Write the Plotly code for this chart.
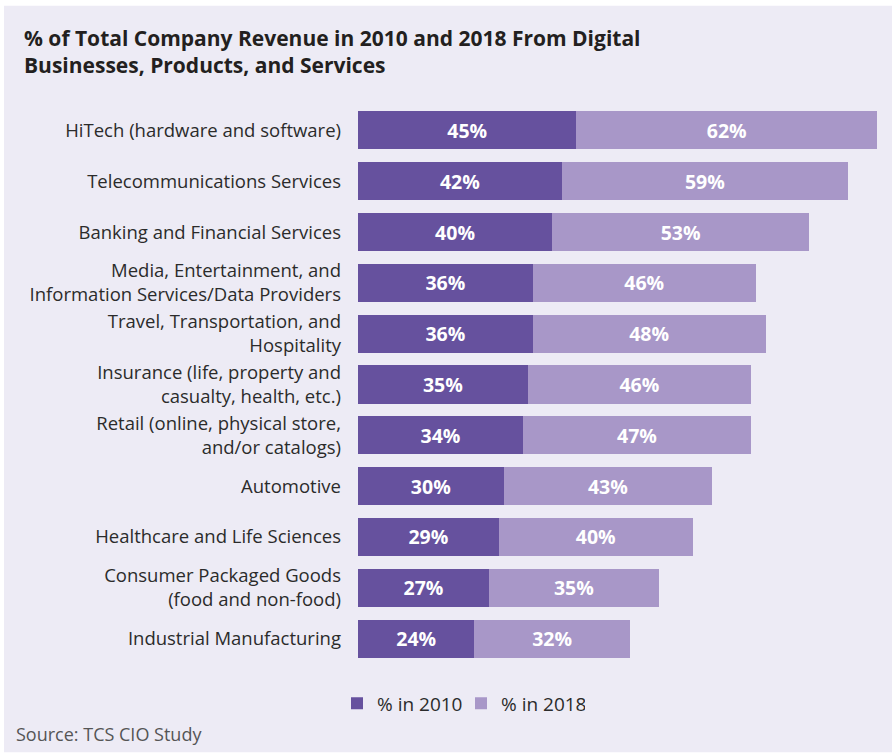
import plotly.graph_objects as go

# Industries, top to bottom
categories = [
    "HiTech (hardware and software)",
    "Telecommunications Services",
    "Banking and Financial Services",
    "Media, Entertainment, and<br>Information Services/Data Providers",
    "Travel, Transportation, and<br>Hospitality",
    "Insurance (life, property and<br>casualty, health, etc.)",
    "Retail (online, physical store,<br>and/or catalogs)",
    "Automotive",
    "Healthcare and Life Sciences",
    "Consumer Packaged Goods<br>(food and non-food)",
    "Industrial Manufacturing",
]
share_2010 = [45, 42, 40, 36, 36, 35, 34, 30, 29, 27, 24]
share_2018 = [62, 59, 53, 46, 48, 46, 47, 43, 40, 35, 32]

DARK = "#66519E"
LIGHT = "#A897C8"
PANEL = "#EDEBF5"
FONT = "Open Sans"

W, H = 893, 753
ML, MR, MT, MB = 358, 11, 104.5, 88.5
PW, PH = W - ML - MR, H - MT - MB


def px_x(p):
    return (p - ML) / PW


def px_y(p):
    return (H - MB - p) / PH


fig = go.Figure()
for name, vals, col in [("% in 2010", share_2010, DARK), ("% in 2018", share_2018, LIGHT)]:
    fig.add_trace(go.Bar(
        y=categories, x=vals, orientation="h", name=name,
        marker=dict(color=col, line=dict(width=0)),
        text=[f"{v}%" for v in vals], texttemplate="%{text}",
        textposition="inside", insidetextanchor="middle",
        textfont=dict(family=FONT, size=19.5, color="white", weight="bold"),
        hoverinfo="skip",
    ))

fig.update_layout(
    width=W, height=H,
    margin=dict(l=ML, r=MR, t=MT, b=MB),
    barmode="stack", bargap=0.25,
    paper_bgcolor="white", plot_bgcolor="rgba(0,0,0,0)",
    font=dict(family=FONT, color="#2b2b2b"),
    uniformtext=dict(minsize=19, mode="show"),
    title=dict(
        text="% of Total Company Revenue in 2010 and 2018 From Digital<br>Businesses, Products, and Services",
        font=dict(family=FONT, size=21, color="#231f20", weight="bold"),
        x=24 / W, xanchor="left", xref="container",
        y=1 - 46 / H, yanchor="top", yref="container",
    ),
    xaxis=dict(range=[0, 108], visible=False, fixedrange=True),
    yaxis=dict(
        autorange="reversed", showgrid=False, zeroline=False, showline=False,
        ticks="", ticklabelstandoff=16,
        tickfont=dict(family=FONT, size=18.5, color="#2b2b2b"),
    ),
    legend=dict(
        orientation="h", x=px_x(337), xanchor="left", y=px_y(704), yanchor="middle",
        font=dict(family=FONT, size=19, color="#2b2b2b"),
        bgcolor="rgba(0,0,0,0)", traceorder="normal",
        entrywidth=79, entrywidthmode="pixels",
    ),
    shapes=[dict(
        type="rect", xref="paper", yref="paper", layer="below",
        x0=px_x(4), x1=px_x(892), y0=px_y(753), y1=px_y(5),
        fillcolor=PANEL, line=dict(width=0),
    )],
    annotations=[dict(
        text="Source: TCS CIO Study", showarrow=False,
        xref="paper", yref="paper", x=px_x(14), xanchor="left",
        y=px_y(735), yanchor="middle",
        font=dict(family=FONT, size=18, color="#555555"),
    )],
)

fig.write_html("out.html")
